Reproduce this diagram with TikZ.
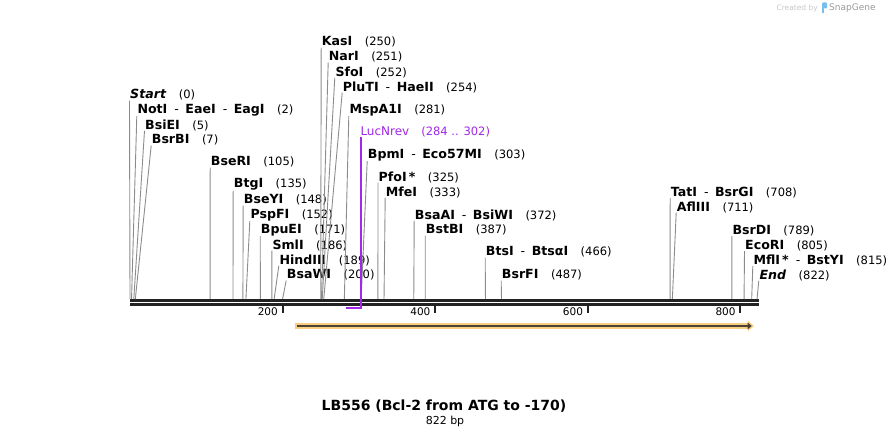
\documentclass[tikz,border=0pt]{standalone}
\usepackage{fontspec}
\setmainfont{DejaVu Sans}
\usetikzlibrary{arrows.meta}
\definecolor{backbone}{RGB}{34,34,34}
\definecolor{cutline}{RGB}{140,140,140}
\definecolor{primerpurple}{RGB}{160,40,230}
\definecolor{featorange}{RGB}{250,206,128}
\definecolor{featdark}{RGB}{75,66,55}
\definecolor{logoblue}{RGB}{120,190,235}
\newcommand{\enzsep}{\hspace{7pt}{\mdseries-}\hspace{6.5pt}}
\newcommand{\bpnum}[1]{\hspace{12.5pt}{\mdseries\fontsize{11.5}{13}\selectfont(#1)}}
\begin{document}
\begin{tikzpicture}[x=1pt,y=-1pt,
  enz/.style={anchor=west,inner sep=0pt,font=\bfseries\fontsize{12.6}{14}\selectfont},
  cut/.style={draw=cutline,line width=0.9pt},
  tickmark/.style={draw=backbone,line width=2pt},
  ticklabel/.style={anchor=east,inner sep=0pt,font=\fontsize{10.5}{12}\selectfont}]
\useasboundingbox (0,0) rectangle (889,438);
\draw[backbone,line width=3pt] (130,300.5) -- (758.7,300.5);
\draw[backbone,line width=3pt] (130,304.5) -- (758.7,304.5);
\foreach \bp in {200,400,600,800}{
  \coordinate (t\bp) at ({130+0.7628*\bp},306);
  \draw[tickmark] (t\bp) -- ++(0,7);
  \node[ticklabel] (tl\bp) at ({130+0.7628*\bp-4.5},312) {\bp};
}
\foreach \lx/\ly/\bp/\nm [count=\i] in {
  130/95/0/{\textit{Start}}, 137.3/110/2/{NotI\enzsep EaeI\enzsep EagI},
  145/125/5/BsiEI, 151.7/140/7/BsrBI, 210.7/162/105/BseRI,
  233.7/184.5/135/BtgI, 243.7/200/148/BseYI, 250.3/215/152/PspFI,
  260.7/230/171/BpuEI, 272.3/245/186/SmlI, 279.3/260/189/HindIII,
  286.7/275/200/BsaWI, 321.7/42/250/KasI, 328.7/57/251/NarI,
  335.3/72/252/SfoI, 342.7/87/254/{PluTI\enzsep HaeII},
  349.3/110/281/MspA1I, 367.7/155/303/{BpmI\enzsep Eco57MI},
  378.5/177/325/{PfoI\,*}, 385.7/192/333/MfeI,
  414.7/215/372/{BsaAI\enzsep BsiWI}, 425.7/230/387/BstBI,
  485.7/252/466/{BtsI\enzsep BtsαI}, 501.7/275/487/BsrFI,
  670.7/192.5/708/{TatI\enzsep BsrGI}, 676.7/207/711/AflIII,
  732.3/230.5/789/BsrDI, 745/245.5/805/EcoRI,
  753.3/260.5/815/{MflI\,*\enzsep BstYI}, 759.3/275/822/{\textit{End}}}{
  \node[enz] (l\i) at (\lx,\ly) {\nm\bpnum{\bp}};
  \coordinate (s\i) at ({130+0.7628*\bp},299);
  \draw[cut] ([xshift=-0.5pt]l\i.south west) -- (s\i);
}
\node[anchor=west,inner sep=0pt,text=primerpurple,font=\fontsize{12}{14}\selectfont] (luc) at (360.3,132)
  {LucNrev\hspace{12pt}{\fontsize{11.5}{13}\selectfont(284 .. 302)}};
\coordinate (lucend) at (346,308);
\draw[primerpurple,line width=2pt] ([xshift=0.5pt]luc.south west) |- (lucend);
\coordinate (featA) at (295,326);
\coordinate (featB) at (754,326);
\draw[featorange,line width=6pt,-{Triangle[length=6pt,width=10pt]}] (featA) -- (featB);
\draw[featdark,line width=2pt,-{Triangle[length=4pt,width=6.5pt]}] ([xshift=2pt]featA) -- ([xshift=-2.3pt]featB);
\node[font=\bfseries\fontsize{14}{16}\selectfont] (title) at (444,406) {LB556 (Bcl-2 from ATG to -170)};
\node[font=\fontsize{11}{13}\selectfont] (len) at (445,421) {822 bp};
\node[anchor=east,inner sep=0pt,text=black!22,font=\fontsize{7.5}{9}\selectfont] (made) at (818,8) {Created by};
\fill[logoblue,rounded corners=1pt] (822,2.5) rectangle (827,8.5);
\fill[logoblue] (822,8) rectangle (824.2,13);
\node[anchor=west,inner sep=0pt,text=black!40,font=\fontsize{9}{11}\selectfont] (snap) at (829,8) {SnapGene};
\end{tikzpicture}
\end{document}
